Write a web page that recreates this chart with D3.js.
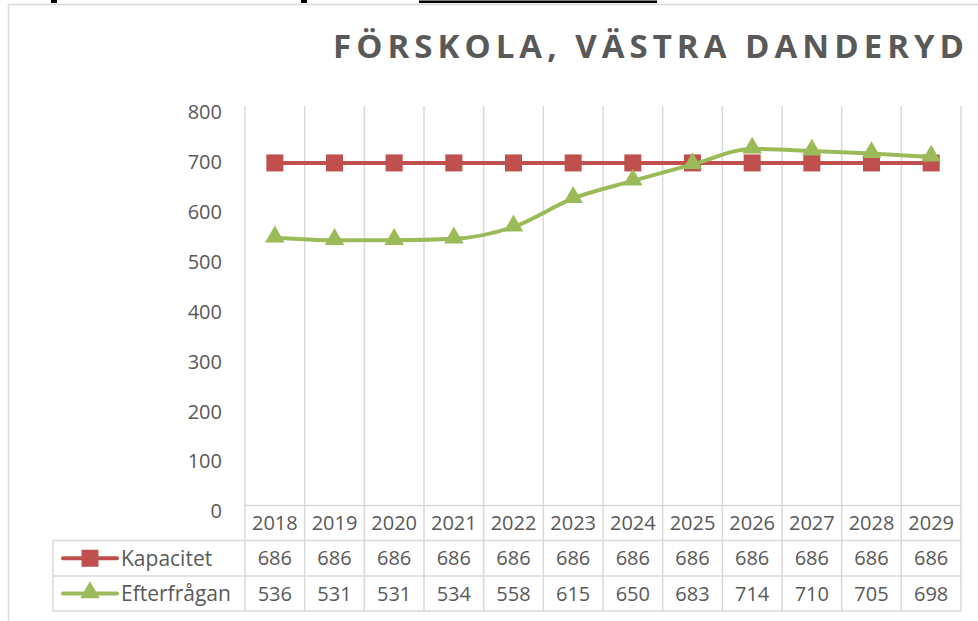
<!DOCTYPE html>
<html>
<head>
<meta charset="utf-8">
<script src="https://cdn.jsdelivr.net/npm/d3@7"></script>
<style>
  body { margin: 0; background: #fff; }
  svg { display: block; font-family: "Open Sans", sans-serif; }
</style>
</head>
<body>
<svg id="chart" width="978" height="621"></svg>
<script>
const years = ["2018", "2019", "2020", "2021", "2022", "2023", "2024", "2025", "2026", "2027", "2028", "2029"];
const kapacitet = [686, 686, 686, 686, 686, 686, 686, 686, 686, 686, 686, 686];
const efterfragan = [536, 531, 531, 534, 558, 615, 650, 683, 714, 710, 705, 698];
const yTicks = [0, 100, 200, 300, 400, 500, 600, 700, 800];
const seriesNames = ["Kapacitet", "Efterfrågan"];
const title = "FÖRSKOLA, VÄSTRA DANDERYD";

const red = "#C0504D", green = "#9BBB59", grid = "#d9d9d9", textColor = "#595959";

const svg = d3.select("#chart");

// cropped text from the page above the chart
svg.append("rect").attr("x", 51).attr("y", 0).attr("width", 6).attr("height", 3).attr("fill", "#000");
svg.append("rect").attr("x", 301).attr("y", 0).attr("width", 6).attr("height", 3).attr("fill", "#000");
svg.append("rect").attr("x", 419).attr("y", 0.5).attr("width", 238).attr("height", 2.5).attr("fill", "#000");

// chart border (runs off the right and bottom)
svg.append("path")
    .attr("d", "M8.5,1000 V4.5 H1000")
    .attr("fill", "none")
    .attr("stroke", grid)
    .attr("stroke-width", 1.5);

svg.append("text")
    .attr("x", 333)
    .attr("y", 58)
    .attr("textLength", 631)
    .attr("lengthAdjust", "spacing")
    .attr("font-size", 33)
    .attr("font-weight", "bold")
    .attr("fill", textColor)
    .text(title);

const x = d3.scaleBand().domain(years).range([245, 961]);
const y = d3.scaleLinear().domain([0, 800]).range([505.5, 106]);

// vertical gridlines
const bounds = years.map(d => x(d)).concat([x.range()[1]]);
svg.append("g").selectAll("line")
    .data(bounds)
    .join("line")
    .attr("x1", d => d).attr("x2", d => d)
    .attr("y1", y(800)).attr("y2", 611)
    .attr("stroke", grid)
    .attr("stroke-width", 1.5);

// y axis labels
const yAxis = svg.append("g")
    .attr("transform", "translate(222,6)")
    .call(d3.axisLeft(y).tickValues(yTicks).tickSize(0).tickPadding(0));
yAxis.select(".domain").remove();
yAxis.selectAll("text")
    .attr("font-family", "Open Sans")
    .attr("font-size", 20)
    .attr("fill", textColor);

// table horizontal lines
const rowY = [505.5, 540.5, 576, 611];
svg.append("g").selectAll("line")
    .data(rowY)
    .join("line")
    .attr("x1", (d, i) => i === 0 ? 245 : 53)
    .attr("x2", 961)
    .attr("y1", d => d).attr("y2", d => d)
    .attr("stroke", grid)
    .attr("stroke-width", 1.5);
svg.append("line")
    .attr("x1", 53).attr("x2", 53)
    .attr("y1", rowY[1]).attr("y2", rowY[3])
    .attr("stroke", grid).attr("stroke-width", 1.5);

const cx = d => x(d) + x.bandwidth() / 2;
const rowMid = i => (rowY[i] + rowY[i + 1]) / 2;

function tableRow(values, i) {
    svg.append("g").selectAll("text")
        .data(values)
        .join("text")
        .attr("x", (d, j) => cx(years[j]))
        .attr("y", rowMid(i))
        .attr("dy", "0.35em")
        .attr("text-anchor", "middle")
        .attr("font-size", 20)
        .attr("fill", textColor)
        .text(d => d);
}
tableRow(years, 0);
tableRow(kapacitet, 1);
tableRow(efterfragan, 2);

const triangle = d3.symbol().type(d3.symbolTriangle).size(165);

// series
const redLine = d3.line().x((d, i) => cx(years[i])).y(d => y(d));
const greenLine = d3.line().x((d, i) => cx(years[i])).y(d => y(d)).curve(d3.curveMonotoneX);

svg.append("path")
    .datum(kapacitet)
    .attr("fill", "none")
    .attr("stroke", red)
    .attr("stroke-width", 4)
    .attr("d", redLine);
svg.append("g").selectAll("rect")
    .data(kapacitet)
    .join("rect")
    .attr("x", (d, i) => cx(years[i]) - 8.5)
    .attr("y", d => y(d) - 8.5)
    .attr("width", 17).attr("height", 17)
    .attr("fill", red);

svg.append("path")
    .datum(efterfragan)
    .attr("fill", "none")
    .attr("stroke", green)
    .attr("stroke-width", 4)
    .attr("d", greenLine);
svg.append("g").selectAll("path")
    .data(efterfragan)
    .join("path")
    .attr("transform", (d, i) => `translate(${cx(years[i])},${y(d) - 1})`)
    .attr("d", triangle)
    .attr("fill", green);

// legend keys in the table
const keyColors = [red, green];
seriesNames.forEach((name, k) => {
    const my = rowMid(k + 1);
    svg.append("line")
        .attr("x1", 63).attr("x2", 117)
        .attr("y1", my).attr("y2", my)
        .attr("stroke", keyColors[k])
        .attr("stroke-width", 4)
        .attr("stroke-linecap", "round");
    if (k === 0) {
        svg.append("rect")
            .attr("x", 90 - 8.5).attr("y", my - 8.5)
            .attr("width", 17).attr("height", 17)
            .attr("fill", red);
    } else {
        svg.append("path")
            .attr("transform", `translate(90,${my - 1})`)
            .attr("d", triangle)
            .attr("fill", green);
    }
    svg.append("text")
        .attr("x", 121)
        .attr("y", my)
        .attr("dy", "0.35em")
        .attr("font-size", 21)
        .attr("fill", textColor)
        .text(name);
});
</script>
</body>
</html>
